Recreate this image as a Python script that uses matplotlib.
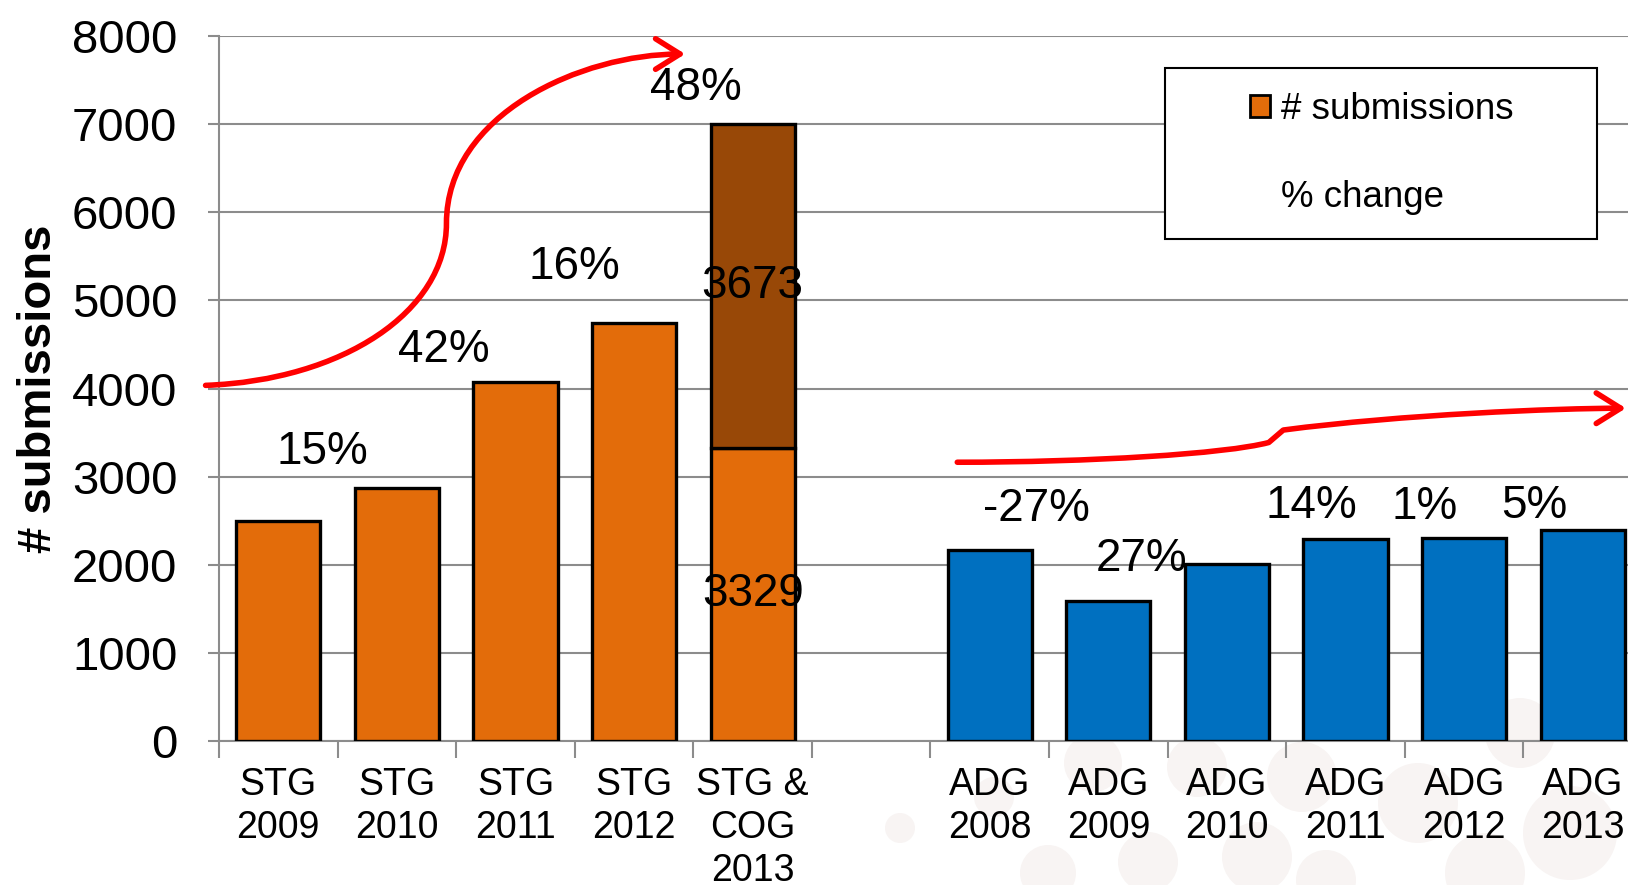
import numpy as np
import matplotlib
matplotlib.use("Agg")
import matplotlib.pyplot as plt
from matplotlib.patches import Rectangle, Circle, Patch, FancyArrowPatch
from matplotlib.path import Path
from matplotlib.lines import Line2D

plt.rcParams["font.family"] = ["Liberation Sans", "DejaVu Sans"]

# data
categories = ["STG\n2009", "STG\n2010", "STG\n2011", "STG\n2012", "STG &\nCOG\n2013", "",
              "ADG\n2008", "ADG\n2009", "ADG\n2010", "ADG\n2011", "ADG\n2012", "ADG\n2013"]
stg_values = [2500, 2870, 4070, 4740, 3329]
cog_2013 = 3673
adg_values = [2170, 1590, 2010, 2290, 2300, 2400]
pct_labels = ["15%", "42%", "16%", "48%", "-27%", "27%", "14%", "1%", "5%"]

# where the % labels sit (category units, submissions)
pct_x = [0.37, 1.40, 2.50, 3.52, 6.39, 7.28, 8.71, 9.67, 10.59]
pct_y = [3280, 4440, 5380, 7410, 2630, 2060, 2670, 2660, 2670]

ORANGE = "#E36C0A"
BROWN = "#984807"
BLUE = "#0070C0"
GRID = "#8c8c8c"

fig = plt.figure(figsize=(16.28, 8.85), dpi=100)

# faint decorative circles of the slide background (figure pixels)
bg_circles = [(900, 828, 15), (1093, 763, 29), (994, 797, 20), (1197, 767, 30),
              (1302, 777, 35), (1418, 803, 40), (1570, 833, 47), (1520, 733, 35),
              (1048, 873, 28), (1148, 862, 30), (1257, 857, 35), (1485, 873, 40),
              (1326, 880, 30)]
for cx, cy, r in bg_circles:
    fig.patches.append(Circle((cx, 885 - cy), r, transform=None,
                              facecolor="#f8f4f3", edgecolor="none", zorder=-1))

ax = fig.add_axes([219 / 1628, 1 - 741 / 885, 1423 / 1628, 705 / 885])
ax.patch.set_visible(False)

x = np.arange(len(categories))
stg_x = x[:5]
adg_x = x[6:]
w = 0.71
ax.bar(stg_x, stg_values, width=w, color=ORANGE, edgecolor="black", linewidth=2.4, zorder=3)
ax.bar(stg_x[-1], cog_2013, bottom=stg_values[-1], width=w, color=BROWN,
       edgecolor="black", linewidth=2.4, zorder=3)
ax.bar(adg_x, adg_values, width=w, color=BLUE, edgecolor="black", linewidth=2.4, zorder=3)

# segment labels of the stacked 2013 bar
ax.text(stg_x[-1], stg_values[-1] / 2, str(stg_values[-1]), ha="center", va="center",
        fontsize=33, zorder=5)
ax.text(stg_x[-1], stg_values[-1] + cog_2013 / 2, str(cog_2013), ha="center", va="center",
        fontsize=33, zorder=5)

for lx, ly, s in zip(pct_x, pct_y, pct_labels):
    ax.text(lx, ly, s, ha="center", va="center", fontsize=33, zorder=5)

ax.set_xlim(-0.5, len(categories) - 0.5)
ax.set_ylim(0, 8000)
ax.set_yticks(np.arange(0, 8001, 1000))
ax.tick_params(axis="y", labelsize=34, length=8, color=GRID, width=1.5, pad=22)
ax.grid(axis="y", color=GRID, linewidth=1.5, zorder=0)
ax.set_axisbelow(True)

# ticks on category boundaries, labels at centers
ax.set_xticks(np.arange(-0.5, len(categories), 1.0))
ax.set_xticklabels([])
ax.set_xticks(x, minor=True)
ax.set_xticklabels(categories, minor=True, fontsize=27, linespacing=1.25)
ax.tick_params(axis="x", which="major", length=12, color=GRID, width=1.5, direction="out")
ax.tick_params(axis="x", which="minor", length=0, pad=19)

for side in ["top", "right"]:
    ax.spines[side].set_visible(False)
for side in ["left", "bottom"]:
    ax.spines[side].set_color(GRID)
    ax.spines[side].set_linewidth(1.5)

ax.set_ylabel("# submissions", fontsize=34, fontweight="bold")
ax.yaxis.set_label_coords(-0.111, 0.5)

# legend box
fig.patches.append(Rectangle((1165 / 1628, 1 - 239 / 885), 432 / 1628, 171 / 885,
                             transform=fig.transFigure, facecolor="white",
                             edgecolor="black", linewidth=1.5, zorder=4))
handles = [Patch(facecolor=ORANGE, edgecolor="black", linewidth=2),
           Line2D([], [], color="none")]
fig.legend(handles, ["# submissions", "% change"], loc="upper left",
           bbox_to_anchor=(1250 / 1628, 1 - 92 / 885), frameon=False, fontsize=26.5,
           handlelength=0.55, handleheight=0.55, handletextpad=0.3,
           labelspacing=1.45, borderpad=0, borderaxespad=0)


# red hand-drawn style arrows (figure pixels of the reference)
def red_arrow(verts, codes):
    pts = [(vx / 1568, 1 - vy / 852) for vx, vy in verts]
    arrow = FancyArrowPatch(path=Path(pts, codes), transform=fig.transFigure,
                            arrowstyle="->,head_length=0.8,head_width=0.5",
                            mutation_scale=22, color="red", linewidth=4, zorder=6)
    fig.patches.append(arrow)


C = Path.CURVE4
red_arrow([(198, 371), (330, 366), (430, 300), (430, 215),
           (430, 110), (560, 52), (660, 52)],
          [Path.MOVETO, C, C, C, C, C, C])
red_arrow([(922, 445), (1050, 445), (1180, 437), (1222, 426),
           (1236, 414), (1350, 399), (1500, 393), (1566, 393)],
          [Path.MOVETO, C, C, C, Path.LINETO, C, C, C])

fig.savefig("out.png", dpi=100)
